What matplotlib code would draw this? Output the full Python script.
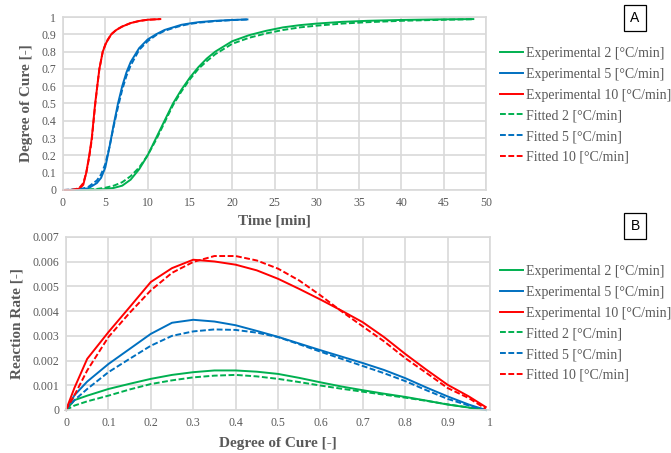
import matplotlib
matplotlib.use("Agg")
import matplotlib.pyplot as plt
import numpy as np

# ---------- Panel A: degree of cure vs time ----------
t_exp2 = [0, 2, 4, 5, 6, 7, 8, 9, 10, 11, 12, 13, 14, 15, 16, 17, 18, 20, 22, 24, 26, 28, 30, 33, 36, 40, 44, 48.5]
a_exp2 = [0, 0, 0.002, 0.005, 0.012, 0.025, 0.06, 0.12, 0.2, 0.3, 0.4, 0.5, 0.58, 0.65, 0.71, 0.76, 0.8, 0.86, 0.895, 0.92, 0.94, 0.953, 0.962, 0.972, 0.978, 0.983, 0.986, 0.988]
t_fit2 = [0, 2, 4, 5, 6, 7, 8, 9, 10, 11, 12, 13, 14, 15, 16, 17, 18, 20, 22, 24, 26, 28, 30, 33, 36, 40, 44, 48.5]
a_fit2 = [0, 0.001, 0.006, 0.013, 0.025, 0.045, 0.08, 0.13, 0.2, 0.29, 0.39, 0.49, 0.57, 0.64, 0.7, 0.745, 0.785, 0.845, 0.88, 0.905, 0.925, 0.94, 0.95, 0.962, 0.97, 0.978, 0.983, 0.987]

t_exp5 = [0, 2, 3, 4, 4.5, 5, 5.5, 6, 6.5, 7, 7.5, 8, 9, 10, 11, 12, 13, 14, 15, 16, 18, 20, 21.8]
a_exp5 = [0, 0.002, 0.01, 0.04, 0.07, 0.13, 0.25, 0.38, 0.5, 0.6, 0.68, 0.74, 0.82, 0.87, 0.9, 0.925, 0.94, 0.955, 0.963, 0.97, 0.978, 0.983, 0.986]
t_fit5 = [0, 2, 3, 4, 4.5, 5, 5.5, 6, 6.5, 7, 7.5, 8, 9, 10, 11, 12, 13, 14, 15, 16, 18, 20, 21.8]
a_fit5 = [0, 0.004, 0.018, 0.055, 0.09, 0.15, 0.25, 0.37, 0.48, 0.58, 0.66, 0.72, 0.81, 0.86, 0.895, 0.92, 0.936, 0.95, 0.96, 0.967, 0.976, 0.982, 0.986]

t_exp10 = [0, 1, 1.5, 2, 2.4, 2.75, 3.1, 3.4, 3.6, 3.8, 4.05, 4.3, 4.7, 5.1, 5.7, 6.3, 7, 8, 9, 10, 11.5]
a_exp10 = [0, 0, 0.003, 0.01, 0.03, 0.1, 0.2, 0.3, 0.4, 0.5, 0.6, 0.7, 0.8, 0.85, 0.9, 0.925, 0.945, 0.965, 0.977, 0.984, 0.988]
t_fit10 = [0, 1, 1.5, 2, 2.4, 2.75, 3.1, 3.4, 3.6, 3.8, 4.05, 4.3, 4.7, 5.1, 5.7, 6.3, 7, 8, 9, 10, 11.5]
a_fit10 = [0, 0.001, 0.005, 0.016, 0.04, 0.1, 0.19, 0.29, 0.39, 0.49, 0.6, 0.7, 0.8, 0.855, 0.9, 0.926, 0.945, 0.965, 0.977, 0.984, 0.988]

# ---------- Panel B: reaction rate vs degree of cure ----------
al_b = [0, 0.02, 0.05, 0.1, 0.15, 0.2, 0.25, 0.3, 0.35, 0.4, 0.45, 0.5, 0.55, 0.6, 0.65, 0.7, 0.75, 0.8, 0.85, 0.9, 0.95, 0.99]
r_exp2 = [0, 0.0004, 0.00058, 0.00085, 0.00106, 0.00126, 0.00142, 0.00153, 0.0016, 0.0016, 0.00155, 0.00146, 0.0013, 0.00112, 0.00095, 0.0008, 0.00066, 0.00053, 0.00038, 0.00022, 0.0001, 0]
r_fit2 = [0, 0.00018, 0.00035, 0.00058, 0.00083, 0.00105, 0.0012, 0.00132, 0.00139, 0.00142, 0.00136, 0.00126, 0.00113, 0.00099, 0.00086, 0.00074, 0.00062, 0.0005, 0.00037, 0.00023, 0.0001, 0]
r_exp5 = [0, 0.0006, 0.00115, 0.00186, 0.00247, 0.00308, 0.00353, 0.00365, 0.00358, 0.00343, 0.0032, 0.00296, 0.00269, 0.00242, 0.00216, 0.0019, 0.00162, 0.00129, 0.00091, 0.00055, 0.00022, 0]
r_fit5 = [0, 0.0004, 0.00085, 0.00153, 0.00207, 0.0026, 0.003, 0.00318, 0.00326, 0.00324, 0.00313, 0.00295, 0.00266, 0.00236, 0.00207, 0.00178, 0.00149, 0.00117, 0.0008, 0.00045, 0.00018, 0]
r_exp10 = [0, 0.0009, 0.00207, 0.00315, 0.00416, 0.00518, 0.00574, 0.00608, 0.00601, 0.00588, 0.00565, 0.00531, 0.0049, 0.00447, 0.00402, 0.00355, 0.00295, 0.00227, 0.00163, 0.00102, 0.00055, 0.00012]
r_fit10 = [0, 0.0006, 0.0016, 0.00295, 0.00393, 0.00484, 0.00555, 0.00599, 0.00623, 0.00623, 0.00605, 0.00572, 0.00524, 0.00464, 0.00399, 0.00338, 0.00278, 0.0021, 0.0015, 0.00089, 0.00048, 0.00005]

GREEN, BLUE, RED = "#00B050", "#0070C0", "#FF0000"
GRAY = "#595959"
GRID = "#D9D9D9"
SERIF = ["Liberation Serif", "DejaVu Serif"]
DASH = (0, (3, 1.3))
LW = 1.4

labels = ["Experimental 2 [°C/min]", "Experimental 5 [°C/min]", "Experimental 10 [°C/min]",
          "Fitted 2 [°C/min]", "Fitted 5 [°C/min]", "Fitted 10 [°C/min]"]

fig = plt.figure(figsize=(6.71, 4.53), dpi=100)

def style(ax):
    ax.grid(True, color=GRID, linewidth=1.2)
    ax.set_axisbelow(True)
    for s in ax.spines.values():
        s.set_color(GRID)
        s.set_linewidth(1.2)
    ax.tick_params(length=0, colors=GRAY, labelsize=8.5, pad=5)
    for lab in ax.get_xticklabels() + ax.get_yticklabels():
        lab.set_family(SERIF)

# Panel A
axA = fig.add_axes([63/671, 1-190/453, (486-63)/671, (190-17)/453])
lA = []
lA += axA.plot(t_exp2, a_exp2, color=GREEN, lw=LW, clip_on=False)
lA += axA.plot(t_exp5, a_exp5, color=BLUE, lw=LW, clip_on=False)
lA += axA.plot(t_exp10, a_exp10, color=RED, lw=LW, clip_on=False)
lA += axA.plot(t_fit2, a_fit2, color=GREEN, lw=LW, linestyle=DASH, clip_on=False)
lA += axA.plot(t_fit5, a_fit5, color=BLUE, lw=LW, linestyle=DASH, clip_on=False)
lA += axA.plot(t_fit10, a_fit10, color=RED, lw=LW, linestyle=DASH, clip_on=False)
axA.set_xlim(0, 50)
axA.set_ylim(0, 1)
axA.set_xticks(np.arange(0, 51, 5))
axA.set_yticks(np.round(np.arange(0, 1.01, 0.1), 1))
axA.set_yticklabels(["0", "0.1", "0.2", "0.3", "0.4", "0.5", "0.6", "0.7", "0.8", "0.9", "1"])
style(axA)
axA.set_xlabel("Time [min]", family=SERIF, fontsize=11, fontweight="bold", color=GRAY, labelpad=4)
axA.set_ylabel("Degree of Cure [-]", family=SERIF, fontsize=11, fontweight="bold", color=GRAY, labelpad=6)

# Panel B
axB = fig.add_axes([66/671, 1-410/453, (490-66)/671, (410-237)/453])
lB = []
lB += axB.plot(al_b, r_exp2, color=GREEN, lw=LW, clip_on=False)
lB += axB.plot(al_b, r_exp5, color=BLUE, lw=LW, clip_on=False)
lB += axB.plot(al_b, r_exp10, color=RED, lw=LW, clip_on=False)
lB += axB.plot(al_b, r_fit2, color=GREEN, lw=LW, linestyle=DASH, clip_on=False)
lB += axB.plot(al_b, r_fit5, color=BLUE, lw=LW, linestyle=DASH, clip_on=False)
lB += axB.plot(al_b, r_fit10, color=RED, lw=LW, linestyle=DASH, clip_on=False)
axB.set_xlim(0, 1)
axB.set_ylim(0, 0.007)
axB.set_xticks(np.round(np.arange(0, 1.01, 0.1), 1))
axB.set_xticklabels(["0", "0.1", "0.2", "0.3", "0.4", "0.5", "0.6", "0.7", "0.8", "0.9", "1"])
axB.set_yticks(np.round(np.arange(0, 0.0071, 0.001), 3))
axB.set_yticklabels(["0", "0.001", "0.002", "0.003", "0.004", "0.005", "0.006", "0.007"])
style(axB)
axB.set_xlabel("Degree of Cure [-]", family=SERIF, fontsize=11, fontweight="bold", color=GRAY, labelpad=6)
axB.set_ylabel("Reaction Rate [-]", family=SERIF, fontsize=11, fontweight="bold", color=GRAY, labelpad=6)

legkw = dict(loc="upper left", frameon=False, prop={"family": SERIF, "size": 10},
             handlelength=1.65, handletextpad=0.2, labelspacing=0.56, labelcolor=GRAY,
             borderaxespad=0, borderpad=0)
fig.legend(lA, labels, bbox_to_anchor=(500/671, 1-47/453), **legkw)
fig.legend(lB, labels, bbox_to_anchor=(500/671, 1-265/453), **legkw)

for y, txt in [(18, "A"), (226, "B")]:
    fig.text(635/671, 1-y/453, txt, ha="center", va="center", fontsize=10, color="black",
             family=["Liberation Sans", "DejaVu Sans"],
             bbox=dict(boxstyle="square,pad=0.45", facecolor="white", edgecolor="black", linewidth=0.9))

fig.savefig("out.png", dpi=100)
